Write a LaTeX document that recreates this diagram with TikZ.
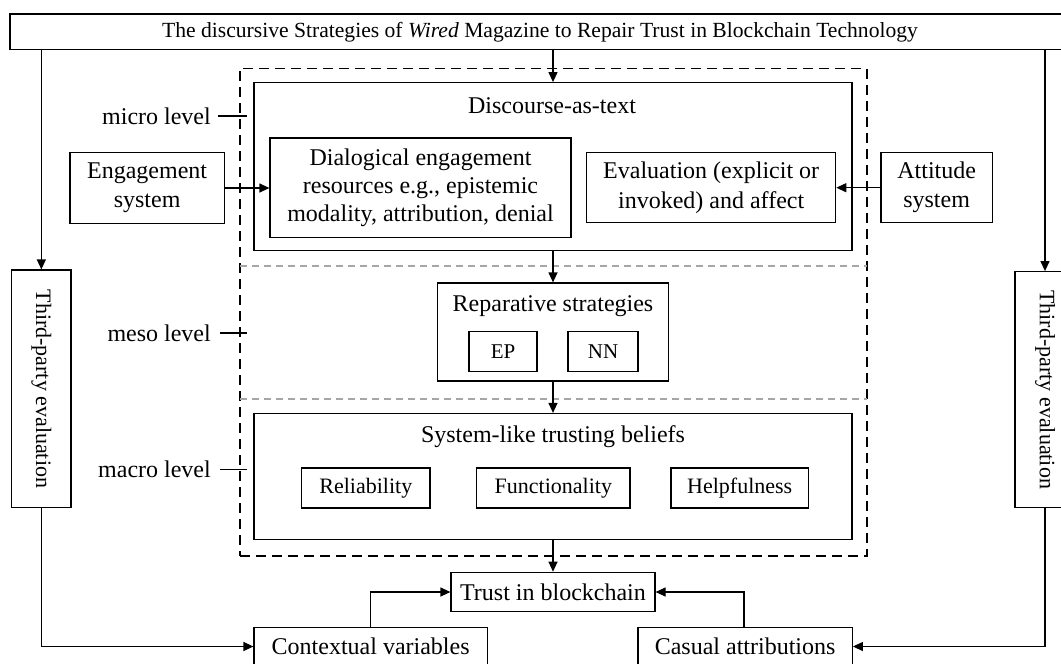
\documentclass[tikz,border=0pt]{standalone}
\usepackage{fontspec}
\setmainfont{Liberation Serif}
\usetikzlibrary{arrows.meta,calc}
\begin{document}
\begin{tikzpicture}[x=1pt,y=-1pt,
  base/.style={font=\fontsize{24}{29}\selectfont, inner sep=0pt, align=center},
  box/.style={base, draw, line width=1.2pt},
  wh/.style 2 args={minimum width=#1pt, minimum height=#2pt},
  small/.style={font=\fontsize{22}{26}\selectfont},
  arr/.style={line width=1.2pt, -{Triangle[length=10pt,width=9pt]}},
  ln/.style={line width=1.2pt},
  outerdash/.style={draw, line width=1.6pt, dash pattern=on 10pt off 6pt},
  sep/.style={draw=gray!70, line width=1.3pt, dash pattern=on 7pt off 5pt},
  lvl/.style={base, anchor=east}
]
\useasboundingbox (0,0) rectangle (1061,664);
\fill[white] (0,0) rectangle (1061,664);

% title
\node[box, wh={1060}{35.5}, line width=1.5pt, font=\fontsize{21.6}{26}\selectfont] (title) at (540,31.75)
  {The discursive Strategies of \textit{Wired} Magazine to Repair Trust in Blockchain Technology};

% outer dashed frame
\node[outerdash, wh={626.7}{487.7}, inner sep=0pt] (outer) at (553.35,312.15) {};
\coordinate (s1l) at (240,266); \coordinate (s1r) at (866.7,266);
\coordinate (s2l) at (240,399); \coordinate (s2r) at (866.7,399);
\draw[sep] (s1l) -- (s1r);
\draw[sep] (s2l) -- (s2r);

% level labels
\node[lvl] (micro) at (211,116) {micro level};
\node[lvl] (meso) at (211,333) {meso level};
\node[lvl] (macro) at (211,469.5) {macro level};
\draw[ln] ($(micro.east)+(7,0)$) -- ++(29,0);
\draw[ln] ($(meso.east)+(9,0)$) -- ++(27,0);
\draw[ln] ($(macro.east)+(9,0)$) -- ++(27,0);

% micro level
\node[box, wh={598}{168}] (disc) at (553,166.7) {};
\node[base] (disct) at (552,106) {Discourse-as-text};
\node[box, wh={301}{99.3}, font=\fontsize{24}{28.3}\selectfont] (dial) at (420.5,187.65)
  {Dialogical engagement\\resources e.g., epistemic\\modality, attribution, denial};
\node[box, wh={249}{70}, font=\fontsize{24}{30}\selectfont] (eval) at (711.2,187.7)
  {Evaluation (explicit or\\invoked) and affect};
\node[box, wh={154.3}{70.6}] (eng) at (147.15,188) {Engagement\\system};
\node[box, wh={111.3}{70}] (att) at (936.65,187.7) {Attitude\\system};

% meso level
\node[box, wh={230.6}{98}] (rep) at (553,332) {};
\node[base] (rept) at (553,306) {Reparative strategies};
\node[box, wh={68}{40}, font=\fontsize{21}{25}\selectfont] (ep) at (503,351.7) {EP};
\node[box, wh={70}{40}, font=\fontsize{21}{25}\selectfont] (nn) at (603,351.7) {NN};

% macro level
\node[box, wh={598}{126}] (sys) at (553,476.5) {};
\node[base] (syst) at (553,436.7) {System-like trusting beliefs};
\node[box, small, wh={128.3}{40}] (rel) at (365.85,488) {Reliability};
\node[box, small, wh={153.3}{40}] (fun) at (553.35,488) {Functionality};
\node[box, small, wh={137.5}{40}] (help) at (739.75,488) {Helpfulness};

% bottom
\node[box, wh={204}{39.4}] (trust) at (553,592) {Trust in blockchain};
\node[box, wh={233.3}{38}] (ctx) at (370.65,646.5) {Contextual variables};
\node[box, wh={214.3}{38}] (cas) at (745.15,646.5) {Casual attributions};

% third-party boxes (rotated: west = top, east = bottom)
\node[box, wh={237.7}{59.3}, font=\fontsize{22}{26}\selectfont, rotate=-90] (ltp) at (41.35,388.85) {Third-party evaluation};
\node[box, wh={236}{60}, font=\fontsize{22}{26}\selectfont, rotate=-90] (rtp) at (1045,389.7) {Third-party evaluation};

% connectors
\draw[arr] (title.south -| disc.north) -- (disc.north);
\draw[arr] (disc.south) -- (rep.north);
\draw[arr] (rep.south) -- (sys.north);
\draw[arr] (sys.south) -- (trust.north);
\draw[arr] (eng.east) -- (eng.east -| dial.west);
\draw[arr] (att.west) -- (att.west -| eval.east);
\draw[arr] (title.south -| ltp.west) -- (ltp.west);
\draw[arr] (title.south -| rtp.west) -- (rtp.west);
\draw[arr] (ltp.east) |- (ctx.west);
\draw[arr] (rtp.east) |- (cas.east);
\draw[arr] (ctx.north) |- (trust.west);
\draw[arr] (cas.north -| 744,0) |- (trust.east);
\end{tikzpicture}
\end{document}
